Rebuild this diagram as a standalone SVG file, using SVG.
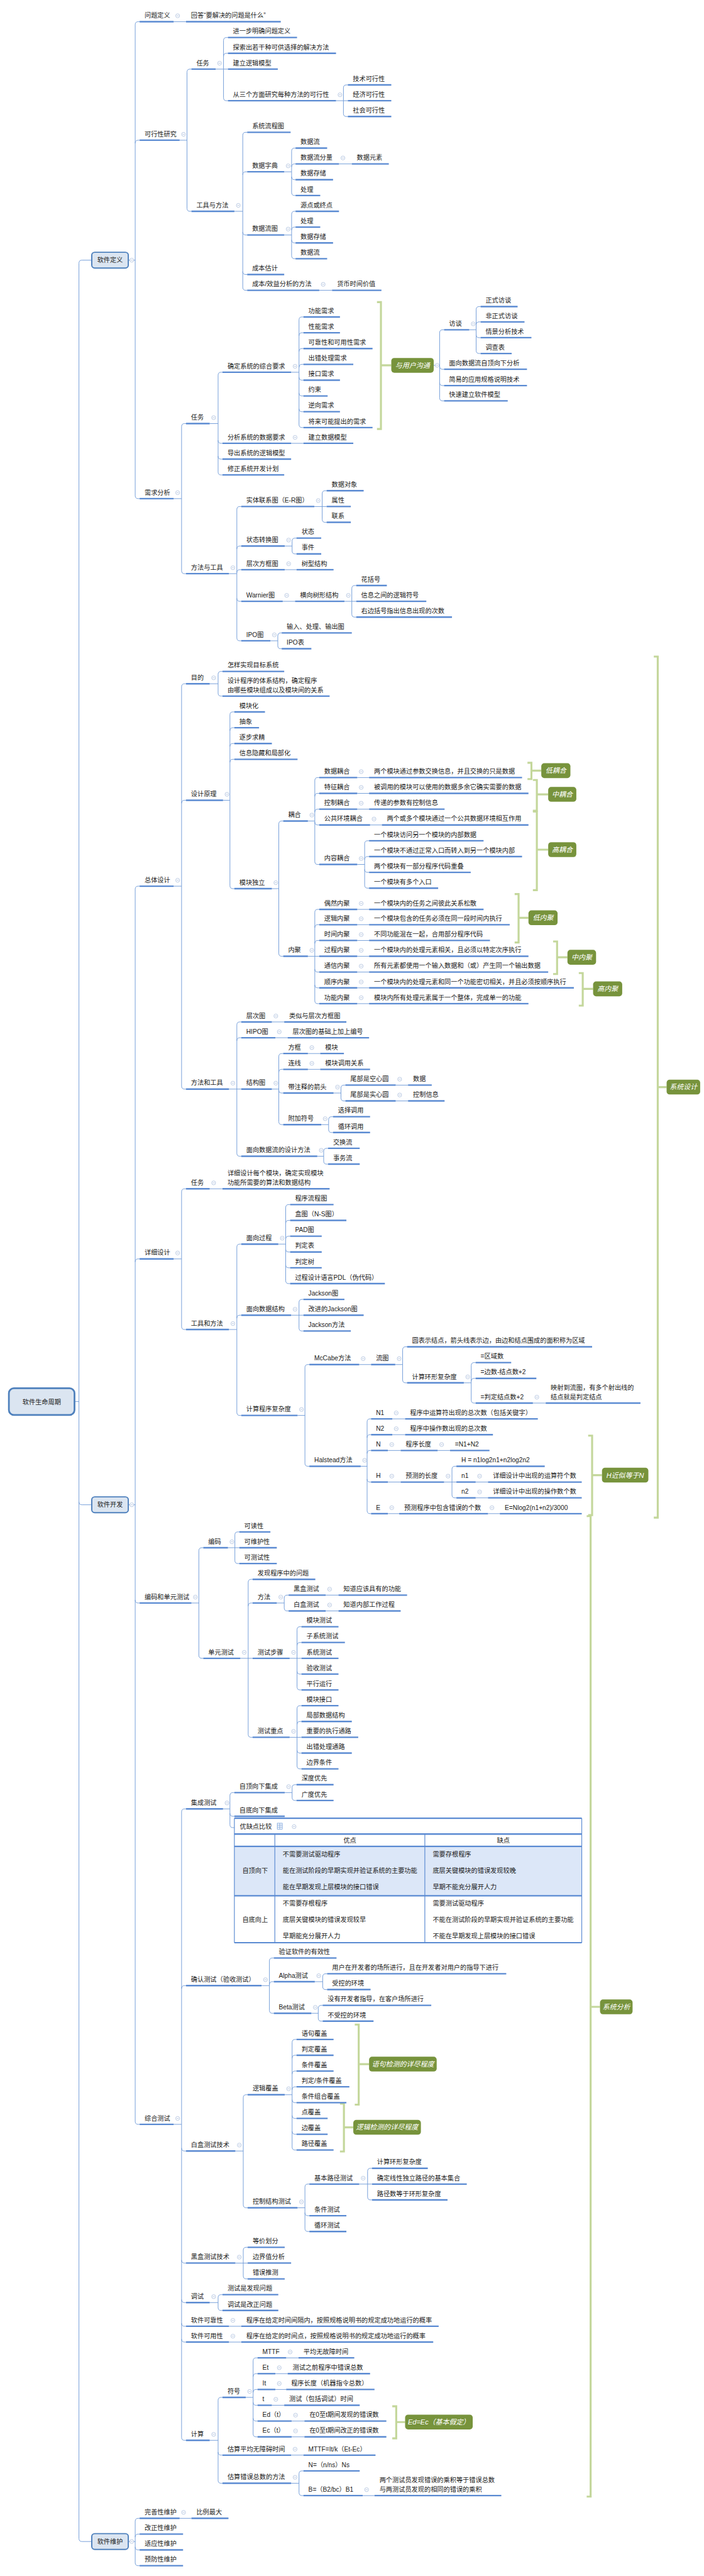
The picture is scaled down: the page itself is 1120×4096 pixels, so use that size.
<svg xmlns="http://www.w3.org/2000/svg" width="1120" height="4096" viewBox="0 0 1120 4096">
<style>
.t{font-family:"Liberation Sans","Noto Sans CJK SC",sans-serif;font-size:13px;fill:#1a1a1a}
.u{stroke:#5a8ad2;stroke-width:3;fill:none}
.c{fill:none;stroke:#6e9ad8;stroke-width:1.2}
.icc{fill:#fff;stroke:#a9bddb;stroke-width:1}
.icm{stroke:#a9bddb;stroke-width:1}
.br{fill:none;stroke:#c4d79b;stroke-width:4}
.lb{fill:#77933c}
.lt{font-family:"Liberation Sans","Noto Sans CJK SC",sans-serif;font-size:14px;font-style:italic;fill:#fff;text-anchor:middle}
.b0{fill:#dbe5f1;stroke:#4f81bd;stroke-width:3.5}
.b1{fill:#dbe5f1;stroke:#4f81bd;stroke-width:2.5}
.bt{font-family:"Liberation Sans","Noto Sans CJK SC",sans-serif;font-size:13px;fill:#1a1a1a;text-anchor:middle}
.tl{stroke:#5a8ad2;fill:none}
.tm{text-anchor:middle}
</style>
<defs><g id="ic"><circle class="icc" r="4"/><path class="icm" d="M-2.2 0H2.2"/></g></defs>
<rect width="1120" height="4096" fill="#fff"/>
<g transform="scale(0.785)">
<g id="connectors">
<path class="c" d="M151 2839H160M160 533V5142M160 533Q160 527 166 527H186M160 3042Q160 3048 166 3048H186M160 5142Q160 5148 166 5148H186"/>
<path class="c" d="M260 527H274M274 50V1004M274 50Q274 44 280 44H283M274 290Q274 284 280 284H283M274 1004Q274 1010 280 1010H283"/>
<path class="c" d="M352 44H377"/>
<path class="c" d="M364 284H379M379 146V422M379 146Q379 140 385 140H388M379 422Q379 428 385 428H388"/>
<path class="c" d="M437 140H453M453 82V198M453 82Q453 76 459 76H462M453 114Q453 108 459 108H462M453 140H462M453 198Q453 204 459 204H462"/>
<path class="c" d="M681 204H696M696 178V230M696 178Q696 172 702 172H705M696 204H705M696 230Q696 236 702 236H705"/>
<path class="c" d="M475 428H492M492 274V582M492 274Q492 268 498 268H501M492 354Q492 348 498 348H501M492 470Q492 476 498 476H501M492 550Q492 556 498 556H501M492 582Q492 588 498 588H501"/>
<path class="c" d="M576 348H591M591 306V390M591 306Q591 300 597 300H599M591 338Q591 332 597 332H599M591 358Q591 364 597 364H599M591 390Q591 396 597 396H599"/>
<path class="c" d="M687 332H713"/>
<path class="c" d="M576 476H591M591 434V518M591 434Q591 428 597 428H599M591 466Q591 460 597 460H599M591 486Q591 492 597 492H599M591 518Q591 524 597 524H599"/>
<path class="c" d="M647 588H673"/>
<path class="c" d="M352 1010H368M368 864V1156M368 864Q368 858 374 858H377M368 1156Q368 1162 374 1162H377"/>
<path class="c" d="M425 858H442M442 760V956M442 760Q442 754 448 754H451M442 892Q442 898 448 898H451M442 924Q442 930 448 930H451M442 956Q442 962 448 962H451"/>
<path class="c" d="M590 754H606M606 648V860M606 648Q606 642 612 642H615M606 680Q606 674 612 674H615M606 712Q606 706 612 706H615M606 744Q606 738 612 738H615M606 764Q606 770 612 770H615M606 796Q606 802 612 802H615M606 828Q606 834 612 834H615M606 860Q606 866 612 866H615"/>
<path class="c" d="M879 740H891M891 674V806M891 674Q891 668 897 668H900M891 742Q891 748 897 748H900M891 775Q891 781 897 781H900M891 806Q891 812 897 812H900"/>
<path class="c" d="M951 668H965M965 627V710M965 627Q965 621 971 621H974M965 658Q965 652 971 652H974M965 678Q965 684 971 684H974M965 710Q965 716 971 716H974"/>
<path class="c" d="M590 898H615"/>
<path class="c" d="M464 1162H480M480 1032V1292M480 1032Q480 1026 486 1026H489M480 1112Q480 1106 486 1106H489M480 1160Q480 1154 486 1154H489M480 1212Q480 1218 486 1218H489M480 1292Q480 1298 486 1298H489"/>
<path class="c" d="M637 1026H653M653 1000V1052M653 1000Q653 994 659 994H662M653 1026H662M653 1052Q653 1058 659 1058H662"/>
<path class="c" d="M577 1106H592M592 1096V1116M592 1096Q592 1090 598 1090H601M592 1116Q592 1122 598 1122H601"/>
<path class="c" d="M577 1154H601M573 1218H598"/>
<path class="c" d="M698 1218H713M713 1192V1244M713 1192Q713 1186 719 1186H722M713 1218H722M713 1244Q713 1250 719 1250H722"/>
<path class="c" d="M548 1298H563M563 1288V1308M563 1288Q563 1282 569 1282H571M563 1308Q563 1314 569 1314H571"/>
<path class="c" d="M260 3048H274M274 1801V4297M274 1801Q274 1795 280 1795H283M274 2556Q274 2550 280 2550H283M274 3241Q274 3247 280 3247H283M274 4297Q274 4303 280 4303H283"/>
<path class="c" d="M352 1795H368M368 1391V2200M368 1391Q368 1385 374 1385H377M368 1627Q368 1621 374 1621H377M368 2200Q368 2206 374 2206H377"/>
<path class="c" d="M425 1385H442M442 1366V1404M442 1366Q442 1360 448 1360H451M442 1404Q442 1410 448 1410H451"/>
<path class="c" d="M452 1621H466M466 1448V1794M466 1448Q466 1442 472 1442H475M466 1480Q466 1474 472 1474H475M466 1512Q466 1506 472 1506H475M466 1544Q466 1538 472 1538H475M466 1794Q466 1800 472 1800H475"/>
<path class="c" d="M551 1800H565M565 1669V1931M565 1669Q565 1663 571 1663H574M565 1931Q565 1937 571 1937H574"/>
<path class="c" d="M624 1663H638M638 1581V1745M638 1581Q638 1575 644 1575H647M638 1613Q638 1607 644 1607H647M638 1645Q638 1639 644 1639H647M638 1665Q638 1671 644 1671H647M638 1745Q638 1751 644 1751H647"/>
<path class="c" d="M724 1575H748M724 1607H748M724 1639H748M750 1671H774"/>
<path class="c" d="M724 1751H739M739 1709V1793M739 1709Q739 1703 745 1703H748M739 1741Q739 1735 745 1735H748M739 1761Q739 1767 745 1767H748M739 1793Q739 1799 745 1799H748"/>
<path class="c" d="M624 1937H638M638 1848V2027M638 1848Q638 1842 644 1842H647M638 1879Q638 1873 644 1873H647M638 1911Q638 1905 644 1905H647M638 1937H647M638 1963Q638 1969 644 1969H647M638 1995Q638 2001 644 2001H647M638 2027Q638 2033 644 2033H647"/>
<path class="c" d="M724 1842H748M724 1873H748M724 1905H748M724 1937H748M724 1969H748M724 2001H748M724 2033H748"/>
<path class="c" d="M464 2206H480M480 2076V2336M480 2076Q480 2070 486 2070H489M480 2108Q480 2102 486 2102H489M480 2206H489M480 2336Q480 2342 486 2342H489"/>
<path class="c" d="M551 2070H576M558 2102H583"/>
<path class="c" d="M551 2206H565M565 2140V2272M565 2140Q565 2134 571 2134H574M565 2172Q565 2166 571 2166H574M565 2208Q565 2214 571 2214H574M565 2272Q565 2278 571 2278H574"/>
<path class="c" d="M624 2134H649M624 2166H649"/>
<path class="c" d="M676 2214H691M691 2204V2224M691 2204Q691 2198 697 2198H700M691 2224Q691 2230 697 2230H700"/>
<path class="c" d="M802 2198H827M802 2230H827"/>
<path class="c" d="M651 2278H666M666 2268V2288M666 2268Q666 2262 672 2262H675M666 2288Q666 2294 672 2294H675"/>
<path class="c" d="M643 2342H656M656 2332V2352M656 2332Q656 2326 662 2326H665M656 2352Q656 2358 662 2358H665"/>
<path class="c" d="M352 2550H368M368 2414V2687M368 2414Q368 2408 374 2408H377M368 2687Q368 2693 374 2693H377"/>
<path class="c" d="M425 2408H451"/>
<path class="c" d="M464 2693H480M480 2526V2861M480 2526Q480 2520 486 2520H489M480 2670Q480 2664 486 2664H489M480 2861Q480 2867 486 2867H489"/>
<path class="c" d="M564 2520H579M579 2446V2594M579 2446Q579 2440 585 2440H588M579 2478Q579 2472 585 2472H588M579 2510Q579 2504 585 2504H588M579 2530Q579 2536 585 2536H588M579 2562Q579 2568 585 2568H588M579 2594Q579 2600 585 2600H588"/>
<path class="c" d="M590 2664H606M606 2638V2690M606 2638Q606 2632 612 2632H615M606 2664H615M606 2690Q606 2696 612 2696H615"/>
<path class="c" d="M603 2867H618M618 2770V2964M618 2770Q618 2764 624 2764H627M618 2964Q618 2970 624 2970H627"/>
<path class="c" d="M728 2764H752"/>
<path class="c" d="M801 2764H816M816 2734V2795M816 2734Q816 2728 822 2728H825M816 2795Q816 2801 822 2801H825"/>
<path class="c" d="M940 2801H955M955 2766V2836M955 2766Q955 2760 961 2760H964M955 2798Q955 2792 961 2792H964M955 2836Q955 2842 961 2842H964"/>
<path class="c" d="M1080 2842H1106"/>
<path class="c" d="M731 2970H744M744 2880V3060M744 2880Q744 2874 750 2874H752M744 2912Q744 2906 750 2906H752M744 2944Q744 2938 750 2938H752M744 2996Q744 3002 750 3002H752M744 3060Q744 3066 750 3066H752"/>
<path class="c" d="M795 2874H821M795 2906H821M786 2938H812M887 2938H912M786 3002H812"/>
<path class="c" d="M900 3002H916M916 2976V3028M916 2976Q916 2970 922 2970H925M916 3002H925M916 3028Q916 3034 922 3034H925"/>
<path class="c" d="M964 3002H989M964 3034H989M786 3066H809M989 3066H1013"/>
<path class="c" d="M388 3247H403M403 3141V3353M403 3141Q403 3135 409 3135H412M403 3353Q403 3359 409 3359H412"/>
<path class="c" d="M462 3135H476M476 3109V3161M476 3109Q476 3103 482 3103H485M476 3135H485M476 3161Q476 3167 482 3167H485"/>
<path class="c" d="M487 3359H503M503 3205V3513M503 3205Q503 3199 509 3199H512M503 3253Q503 3247 509 3247H512M503 3359H512M503 3513Q503 3519 509 3519H512"/>
<path class="c" d="M561 3247H576M576 3237V3257M576 3237Q576 3231 582 3231H585M576 3257Q576 3263 582 3263H585"/>
<path class="c" d="M660 3231H686M660 3263H686"/>
<path class="c" d="M587 3359H602M602 3301V3417M602 3301Q602 3295 608 3295H611M602 3333Q602 3327 608 3327H611M602 3359H611M602 3385Q602 3391 608 3391H611M602 3417Q602 3423 608 3423H611"/>
<path class="c" d="M587 3519H602M602 3461V3577M602 3461Q602 3455 608 3455H611M602 3493Q602 3487 608 3487H611M602 3519H611M602 3545Q602 3551 608 3551H611M602 3577Q602 3583 608 3583H611"/>
<path class="c" d="M352 4303H368M368 3670V4937M368 3670Q368 3664 374 3664H377M368 4028Q368 4022 374 4022H377M368 4351Q368 4357 374 4357H377M368 4578Q368 4584 374 4584H377M368 4658Q368 4664 374 4664H377M368 4706Q368 4712 374 4712H377M368 4738Q368 4744 374 4744H377M368 4937Q368 4943 374 4943H377"/>
<path class="c" d="M452 3664H466M466 3637V3696M466 3637Q466 3631 472 3631H475M466 3673Q466 3679 472 3679H475M466 3696Q466 3702 472 3702H475"/>
<path class="c" d="M577 3631H592M592 3621V3641M592 3621Q592 3615 598 3615H601M592 3641Q592 3647 598 3647H601"/>
<path class="c" d="M530 4022H546M546 3972V4072M546 3972Q546 3966 552 3966H555M546 4020Q546 4014 552 4014H555M546 4072Q546 4078 552 4078H555"/>
<path class="c" d="M638 4014H654M654 4004V4024M654 4004Q654 3998 660 3998H663M654 4024Q654 4030 660 4030H663"/>
<path class="c" d="M631 4078H645M645 4068V4088M645 4068Q645 4062 651 4062H654M645 4088Q645 4094 651 4094H654"/>
<path class="c" d="M477 4357H493M493 4249V4466M493 4249Q493 4243 499 4243H502M493 4466Q493 4472 499 4472H502"/>
<path class="c" d="M577 4243H592M592 4137V4349M592 4137Q592 4131 598 4131H601M592 4169Q592 4163 598 4163H601M592 4201Q592 4195 598 4195H601M592 4233Q592 4227 598 4227H601M592 4253Q592 4259 598 4259H601M592 4285Q592 4291 598 4291H601M592 4317Q592 4323 598 4323H601M592 4349Q592 4355 598 4355H601"/>
<path class="c" d="M603 4472H618M618 4430V4514M618 4430Q618 4424 624 4424H627M618 4482Q618 4488 624 4488H627M618 4514Q618 4520 624 4520H627"/>
<path class="c" d="M728 4424H745M745 4398V4450M745 4398Q745 4392 751 4392H754M745 4424H754M745 4450Q745 4456 751 4456H754"/>
<path class="c" d="M477 4584H493M493 4558V4610M493 4558Q493 4552 499 4552H502M493 4584H502M493 4610Q493 4616 499 4616H502"/>
<path class="c" d="M425 4664H442M442 4654V4674M442 4654Q442 4648 448 4648H451M442 4674Q442 4680 448 4680H451"/>
<path class="c" d="M464 4712H489M464 4744H489"/>
<path class="c" d="M425 4943H442M442 4862V5024M442 4862Q442 4856 448 4856H451M442 4967Q442 4973 448 4973H451M442 5024Q442 5030 448 5030H451"/>
<path class="c" d="M498 4856H513M513 4782V4930M513 4782Q513 4776 519 4776H522M513 4814Q513 4808 519 4808H522M513 4846Q513 4840 519 4840H522M513 4866Q513 4872 519 4872H522M513 4898Q513 4904 519 4904H522M513 4930Q513 4936 519 4936H522"/>
<path class="c" d="M580 4776H605M558 4808H583M558 4840H580M551 4872H576M591 4904H617M591 4936H617M590 4973H615"/>
<path class="c" d="M590 5030H606M606 5011V5049M606 5011Q606 5005 612 5005H615M606 5049Q606 5055 612 5055H615"/>
<path class="c" d="M735 5055H759"/>
<path class="c" d="M260 5148H274M274 5107V5191M274 5107Q274 5101 280 5101H283M274 5139Q274 5133 280 5133H283M274 5159Q274 5165 280 5165H283M274 5191Q274 5197 280 5197H283"/>
<path class="c" d="M364 5101H388"/>
</g>
<g id="brackets">
<path class="br" d="M764 612H772V869H764M772 740H793"/>
<path class="br" d="M1069 1545H1077V1578H1069M1077 1561H1097"/>
<path class="br" d="M1080 1580H1088V1642H1080M1088 1609H1111"/>
<path class="br" d="M1080 1644H1088V1803H1080M1088 1721H1111"/>
<path class="br" d="M1043 1811H1051V1909H1043M1051 1859H1071"/>
<path class="br" d="M1121 1907H1129V1973H1121M1129 1939H1150"/>
<path class="br" d="M1173 1971H1181V2037H1173M1181 2003H1202"/>
<path class="br" d="M1325 1330H1333V3074H1325M1333 2202H1351"/>
<path class="br" d="M1192 2908H1200V3069H1192M1200 2988H1220"/>
<path class="br" d="M719 4101H727V4263H719M727 4181H748"/>
<path class="br" d="M689 4261H697V4358H689M697 4309H716"/>
<path class="br" d="M795 4874H803V4939H795M803 4906H821"/>
<path class="br" d="M1189 3071H1197V5057H1189M1197 4065H1216"/>
</g>
<g id="root"><rect class="b0" x="18" y="2812" width="133" height="54" rx="10"/><text class="bt" x="84.5" y="2844">软件生命周期</text></g>
<g id="l1-def"><rect class="b1" x="186" y="511" width="74" height="32" rx="6"/><text class="bt" x="223" y="531.5">软件定义</text><use href="#ic" x="267" y="527"/></g>
<g id="l1-dev"><rect class="b1" x="186" y="3032" width="74" height="32" rx="6"/><text class="bt" x="223" y="3052.5">软件开发</text><use href="#ic" x="267" y="3048"/></g>
<g id="l1-mnt"><rect class="b1" x="186" y="5132" width="74" height="32" rx="6"/><text class="bt" x="223" y="5152.5">软件维护</text><use href="#ic" x="267" y="5148"/></g>
<g id="s-gytx"><rect class="lb" x="793" y="725" width="86" height="30" rx="6"/><text class="lt" x="836" y="745">与用户沟通</text><use href="#ic" x="886" y="740"/></g>
<g id="s-dou"><rect class="lb" x="1097" y="1546" width="59" height="30" rx="6"/><text class="lt" x="1126.5" y="1566">低耦合</text></g>
<g id="s-zou"><rect class="lb" x="1111" y="1594" width="57" height="30" rx="6"/><text class="lt" x="1139.5" y="1614">中耦合</text></g>
<g id="s-gou"><rect class="lb" x="1111" y="1706" width="57" height="30" rx="6"/><text class="lt" x="1139.5" y="1726">高耦合</text></g>
<g id="s-dnj"><rect class="lb" x="1071" y="1844" width="59" height="30" rx="6"/><text class="lt" x="1100.5" y="1864">低内聚</text></g>
<g id="s-znj"><rect class="lb" x="1150" y="1924" width="58" height="30" rx="6"/><text class="lt" x="1179" y="1944">中内聚</text></g>
<g id="s-gnj"><rect class="lb" x="1202" y="1988" width="59" height="30" rx="6"/><text class="lt" x="1231.5" y="2008">高内聚</text></g>
<g id="s-xtsj"><rect class="lb" x="1351" y="2187" width="68" height="30" rx="6"/><text class="lt" x="1385" y="2207">系统设计</text></g>
<g id="s-hn"><rect class="lb" x="1220" y="2973" width="94" height="30" rx="6"/><text class="lt" x="1267" y="2993">H近似等于N</text></g>
<g id="s-yjjc"><rect class="lb" x="748" y="4166" width="137" height="30" rx="6"/><text class="lt" x="816.5" y="4186">语句检测的详尽程度</text></g>
<g id="s-ljjc"><rect class="lb" x="716" y="4294" width="137" height="30" rx="6"/><text class="lt" x="784.5" y="4314">逻辑检测的详尽程度</text></g>
<g id="s-edec"><rect class="lb" x="821" y="4891" width="137" height="30" rx="6"/><text class="lt" x="889.5" y="4911">Ed=Ec（基本假定）</text></g>
<g id="s-xtfx"><rect class="lb" x="1216" y="4050" width="66" height="30" rx="6"/><text class="lt" x="1249" y="4070">系统分析</text></g>
<g id="n1"><path class="u" d="M283 44H352"/><text class="t" x="293" y="36">问题定义</text><use href="#ic" x="360" y="32"/></g>
<g id="n2"><path class="u" d="M377 44H569"/><text class="t" x="387" y="36">回答“要解决的问题是什么”</text></g>
<g id="n3"><path class="u" d="M283 284H364"/><text class="t" x="293" y="276">可行性研究</text><use href="#ic" x="372" y="272"/></g>
<g id="n4"><path class="u" d="M388 140H437"/><text class="t" x="398" y="132">任务</text><use href="#ic" x="445" y="128"/></g>
<g id="n5"><path class="u" d="M462 76H602"/><text class="t" x="472" y="68">进一步明确问题定义</text></g>
<g id="n6"><path class="u" d="M462 108H681"/><text class="t" x="472" y="100">探索出若干种可供选择的解决方法</text></g>
<g id="n7"><path class="u" d="M462 140H563"/><text class="t" x="472" y="132">建立逻辑模型</text></g>
<g id="n8"><path class="u" d="M462 204H681"/><text class="t" x="472" y="196">从三个方面研究每种方法的可行性</text><use href="#ic" x="689" y="192"/></g>
<g id="n9"><path class="u" d="M705 172H793"/><text class="t" x="715" y="164">技术可行性</text></g>
<g id="n10"><path class="u" d="M705 204H793"/><text class="t" x="715" y="196">经济可行性</text></g>
<g id="n11"><path class="u" d="M705 236H793"/><text class="t" x="715" y="228">社会可行性</text></g>
<g id="n12"><path class="u" d="M388 428H475"/><text class="t" x="398" y="420">工具与方法</text><use href="#ic" x="483" y="416"/></g>
<g id="n13"><path class="u" d="M501 268H589"/><text class="t" x="511" y="260">系统流程图</text></g>
<g id="n14"><path class="u" d="M501 348H576"/><text class="t" x="511" y="340">数据字典</text><use href="#ic" x="584" y="336"/></g>
<g id="n15"><path class="u" d="M599 300H663"/><text class="t" x="609" y="292">数据流</text></g>
<g id="n16"><path class="u" d="M599 332H687"/><text class="t" x="609" y="324">数据流分量</text><use href="#ic" x="695" y="320"/></g>
<g id="n17"><path class="u" d="M713 332H788"/><text class="t" x="723" y="324">数据元素</text></g>
<g id="n18"><path class="u" d="M599 364H675"/><text class="t" x="609" y="356">数据存储</text></g>
<g id="n19"><path class="u" d="M599 396H649"/><text class="t" x="609" y="388">处理</text></g>
<g id="n20"><path class="u" d="M501 476H576"/><text class="t" x="511" y="468">数据流图</text><use href="#ic" x="584" y="464"/></g>
<g id="n21"><path class="u" d="M599 428H687"/><text class="t" x="609" y="420">源点或终点</text></g>
<g id="n22"><path class="u" d="M599 460H649"/><text class="t" x="609" y="452">处理</text></g>
<g id="n23"><path class="u" d="M599 492H675"/><text class="t" x="609" y="484">数据存储</text></g>
<g id="n24"><path class="u" d="M599 524H663"/><text class="t" x="609" y="516">数据流</text></g>
<g id="n25"><path class="u" d="M501 556H576"/><text class="t" x="511" y="548">成本估计</text></g>
<g id="n26"><path class="u" d="M501 588H647"/><text class="t" x="511" y="580">成本/效益分析的方法</text><use href="#ic" x="655" y="576"/></g>
<g id="n27"><path class="u" d="M673 588H773"/><text class="t" x="683" y="580">货币时间价值</text></g>
<g id="n28"><path class="u" d="M283 1010H352"/><text class="t" x="293" y="1002">需求分析</text><use href="#ic" x="360" y="998"/></g>
<g id="n29"><path class="u" d="M377 858H425"/><text class="t" x="387" y="850">任务</text><use href="#ic" x="433" y="846"/></g>
<g id="n30"><path class="u" d="M451 754H590"/><text class="t" x="461" y="746">确定系统的综合要求</text><use href="#ic" x="598" y="742"/></g>
<g id="n31"><path class="u" d="M615 642H689"/><text class="t" x="625" y="634">功能需求</text></g>
<g id="n32"><path class="u" d="M615 674H689"/><text class="t" x="625" y="666">性能需求</text></g>
<g id="n33"><path class="u" d="M615 706H755"/><text class="t" x="625" y="698">可靠性和可用性需求</text></g>
<g id="n34"><path class="u" d="M615 738H716"/><text class="t" x="625" y="730">出错处理需求</text></g>
<g id="n35"><path class="u" d="M615 770H689"/><text class="t" x="625" y="762">接口需求</text></g>
<g id="n36"><path class="u" d="M615 802H664"/><text class="t" x="625" y="794">约束</text></g>
<g id="n37"><path class="u" d="M615 834H689"/><text class="t" x="625" y="826">逆向需求</text></g>
<g id="n38"><path class="u" d="M615 866H755"/><text class="t" x="625" y="858">将来可能提出的需求</text></g>
<g id="n39"><path class="u" d="M900 668H951"/><text class="t" x="910" y="660">访谈</text><use href="#ic" x="959" y="656"/></g>
<g id="n40"><path class="u" d="M974 621H1049"/><text class="t" x="984" y="613">正式访谈</text></g>
<g id="n41"><path class="u" d="M974 652H1063"/><text class="t" x="984" y="644">非正式访谈</text></g>
<g id="n42"><path class="u" d="M974 684H1077"/><text class="t" x="984" y="676">情景分析技术</text></g>
<g id="n43"><path class="u" d="M974 716H1037"/><text class="t" x="984" y="708">调查表</text></g>
<g id="n44"><path class="u" d="M900 748H1068"/><text class="t" x="910" y="740">面向数据流自顶向下分析</text></g>
<g id="n45"><path class="u" d="M900 781H1068"/><text class="t" x="910" y="773">简易的应用规格说明技术</text></g>
<g id="n46"><path class="u" d="M900 812H1029"/><text class="t" x="910" y="804">快速建立软件模型</text></g>
<g id="n47"><path class="u" d="M451 898H590"/><text class="t" x="461" y="890">分析系统的数据要求</text><use href="#ic" x="598" y="886"/></g>
<g id="n48"><path class="u" d="M615 898H716"/><text class="t" x="625" y="890">建立数据模型</text></g>
<g id="n49"><path class="u" d="M451 930H590"/><text class="t" x="461" y="922">导出系统的逻辑模型</text></g>
<g id="n50"><path class="u" d="M451 962H576"/><text class="t" x="461" y="954">修正系统开发计划</text></g>
<g id="n51"><path class="u" d="M377 1162H464"/><text class="t" x="387" y="1154">方法与工具</text><use href="#ic" x="472" y="1150"/></g>
<g id="n52"><path class="u" d="M489 1026H637"/><text class="t" x="499" y="1018">实体联系图（E-R图）</text><use href="#ic" x="645" y="1014"/></g>
<g id="n53"><path class="u" d="M662 994H737"/><text class="t" x="672" y="986">数据对象</text></g>
<g id="n54"><path class="u" d="M662 1026H711"/><text class="t" x="672" y="1018">属性</text></g>
<g id="n55"><path class="u" d="M662 1058H711"/><text class="t" x="672" y="1050">联系</text></g>
<g id="n56"><path class="u" d="M489 1106H577"/><text class="t" x="499" y="1098">状态转换图</text><use href="#ic" x="585" y="1094"/></g>
<g id="n57"><path class="u" d="M601 1090H651"/><text class="t" x="611" y="1082">状态</text></g>
<g id="n58"><path class="u" d="M601 1122H651"/><text class="t" x="611" y="1114">事件</text></g>
<g id="n59"><path class="u" d="M489 1154H577"/><text class="t" x="499" y="1146">层次方框图</text><use href="#ic" x="585" y="1142"/></g>
<g id="n60"><path class="u" d="M601 1154H676"/><text class="t" x="611" y="1146">树型结构</text></g>
<g id="n61"><path class="u" d="M489 1218H573"/><text class="t" x="499" y="1210">Warnier图</text><use href="#ic" x="581" y="1206"/></g>
<g id="n62"><path class="u" d="M598 1218H698"/><text class="t" x="608" y="1210">横向树形结构</text><use href="#ic" x="706" y="1206"/></g>
<g id="n63"><path class="u" d="M722 1186H784"/><text class="t" x="732" y="1178">花括号</text></g>
<g id="n64"><path class="u" d="M722 1218H864"/><text class="t" x="732" y="1210">信息之间的逻辑符号</text></g>
<g id="n65"><path class="u" d="M722 1250H916"/><text class="t" x="732" y="1242">右边括号指出信息出现的次数</text></g>
<g id="n66"><path class="u" d="M489 1298H548"/><text class="t" x="499" y="1290">IPO图</text><use href="#ic" x="556" y="1286"/></g>
<g id="n67"><path class="u" d="M571 1282H713"/><text class="t" x="581" y="1274">输入、处理、输出图</text></g>
<g id="n68"><path class="u" d="M571 1314H631"/><text class="t" x="581" y="1306">IPO表</text></g>
<g id="n69"><path class="u" d="M283 1795H352"/><text class="t" x="293" y="1787">总体设计</text><use href="#ic" x="360" y="1783"/></g>
<g id="n70"><path class="u" d="M377 1385H425"/><text class="t" x="387" y="1377">目的</text><use href="#ic" x="433" y="1373"/></g>
<g id="n71"><path class="u" d="M451 1360H576"/><text class="t" x="461" y="1352">怎样实现目标系统</text></g>
<g id="n72"><path class="u" d="M451 1410H668"/><text class="t" x="461" y="1383">设计程序的体系结构，确定程序</text><text class="t" x="461" y="1402">由哪些模块组成以及模块间的关系</text></g>
<g id="n73"><path class="u" d="M377 1621H452"/><text class="t" x="387" y="1613">设计原理</text><use href="#ic" x="460" y="1609"/></g>
<g id="n74"><path class="u" d="M475 1442H537"/><text class="t" x="485" y="1434">模块化</text></g>
<g id="n75"><path class="u" d="M475 1474H525"/><text class="t" x="485" y="1466">抽象</text></g>
<g id="n76"><path class="u" d="M475 1506H551"/><text class="t" x="485" y="1498">逐步求精</text></g>
<g id="n77"><path class="u" d="M475 1538H603"/><text class="t" x="485" y="1530">信息隐藏和局部化</text></g>
<g id="n78"><path class="u" d="M475 1800H551"/><text class="t" x="485" y="1792">模块独立</text><use href="#ic" x="559" y="1788"/></g>
<g id="n79"><path class="u" d="M574 1663H624"/><text class="t" x="584" y="1655">耦合</text><use href="#ic" x="632" y="1651"/></g>
<g id="n80"><path class="u" d="M647 1575H724"/><text class="t" x="657" y="1567">数据耦合</text><use href="#ic" x="732" y="1563"/></g>
<g id="n81"><path class="u" d="M748 1575H1058"/><text class="t" x="758" y="1567">两个模块通过参数交换信息，并且交换的只是数据</text></g>
<g id="n82"><path class="u" d="M647 1607H724"/><text class="t" x="657" y="1599">特征耦合</text><use href="#ic" x="732" y="1595"/></g>
<g id="n83"><path class="u" d="M748 1607H1071"/><text class="t" x="758" y="1599">被调用的模块可以使用的数据多余它确实需要的数据</text></g>
<g id="n84"><path class="u" d="M647 1639H724"/><text class="t" x="657" y="1631">控制耦合</text><use href="#ic" x="732" y="1627"/></g>
<g id="n85"><path class="u" d="M748 1639H901"/><text class="t" x="758" y="1631">传递的参数有控制信息</text></g>
<g id="n86"><path class="u" d="M647 1671H750"/><text class="t" x="657" y="1663">公共环境耦合</text><use href="#ic" x="758" y="1659"/></g>
<g id="n87"><path class="u" d="M774 1671H1071"/><text class="t" x="784" y="1663">两个或多个模块通过一个公共数据环境相互作用</text></g>
<g id="n88"><path class="u" d="M647 1751H724"/><text class="t" x="657" y="1743">内容耦合</text><use href="#ic" x="732" y="1739"/></g>
<g id="n89"><path class="u" d="M748 1703H980"/><text class="t" x="758" y="1695">一个模块访问另一个模块的内部数据</text></g>
<g id="n90"><path class="u" d="M748 1735H1058"/><text class="t" x="758" y="1727">一个模块不通过正常入口而转入到另一个模块内部</text></g>
<g id="n91"><path class="u" d="M748 1767H954"/><text class="t" x="758" y="1759">两个模块有一部分程序代码重叠</text></g>
<g id="n92"><path class="u" d="M748 1799H888"/><text class="t" x="758" y="1791">一个模块有多个入口</text></g>
<g id="n93"><path class="u" d="M574 1937H624"/><text class="t" x="584" y="1929">内聚</text><use href="#ic" x="632" y="1925"/></g>
<g id="n94"><path class="u" d="M647 1842H724"/><text class="t" x="657" y="1834">偶然内聚</text><use href="#ic" x="732" y="1830"/></g>
<g id="n95"><path class="u" d="M748 1842H980"/><text class="t" x="758" y="1834">一个模块内的任务之间彼此关系松散</text></g>
<g id="n96"><path class="u" d="M647 1873H724"/><text class="t" x="657" y="1865">逻辑内聚</text><use href="#ic" x="732" y="1861"/></g>
<g id="n97"><path class="u" d="M748 1873H1033"/><text class="t" x="758" y="1865">一个模块包含的任务必须在同一段时间内执行</text></g>
<g id="n98"><path class="u" d="M647 1905H724"/><text class="t" x="657" y="1897">时间内聚</text><use href="#ic" x="732" y="1893"/></g>
<g id="n99"><path class="u" d="M748 1905H993"/><text class="t" x="758" y="1897">不同功能混在一起，合用部分程序代码</text></g>
<g id="n100"><path class="u" d="M647 1937H724"/><text class="t" x="657" y="1929">过程内聚</text><use href="#ic" x="732" y="1925"/></g>
<g id="n101"><path class="u" d="M748 1937H1071"/><text class="t" x="758" y="1929">一个模块内的处理元素相关，且必须以特定次序执行</text></g>
<g id="n102"><path class="u" d="M647 1969H724"/><text class="t" x="657" y="1961">通信内聚</text><use href="#ic" x="732" y="1957"/></g>
<g id="n103"><path class="u" d="M748 1969H1111"/><text class="t" x="758" y="1961">所有元素都使用一个输入数据和（或）产生同一个输出数据</text></g>
<g id="n104"><path class="u" d="M647 2001H724"/><text class="t" x="657" y="1993">顺序内聚</text><use href="#ic" x="732" y="1989"/></g>
<g id="n105"><path class="u" d="M748 2001H1163"/><text class="t" x="758" y="1993">一个模块内的处理元素和同一个功能密切相关，并且必须按顺序执行</text></g>
<g id="n106"><path class="u" d="M647 2033H724"/><text class="t" x="657" y="2025">功能内聚</text><use href="#ic" x="732" y="2021"/></g>
<g id="n107"><path class="u" d="M748 2033H1071"/><text class="t" x="758" y="2025">模块内所有处理元素属于一个整体，完成单一的功能</text></g>
<g id="n108"><path class="u" d="M377 2206H464"/><text class="t" x="387" y="2198">方法和工具</text><use href="#ic" x="472" y="2194"/></g>
<g id="n109"><path class="u" d="M489 2070H551"/><text class="t" x="499" y="2062">层次图</text><use href="#ic" x="559" y="2058"/></g>
<g id="n110"><path class="u" d="M576 2070H702"/><text class="t" x="586" y="2062">类似与层次方框图</text></g>
<g id="n111"><path class="u" d="M489 2102H558"/><text class="t" x="499" y="2094">HIPO图</text><use href="#ic" x="566" y="2090"/></g>
<g id="n112"><path class="u" d="M583 2102H748"/><text class="t" x="593" y="2094">层次图的基础上加上编号</text></g>
<g id="n113"><path class="u" d="M489 2206H551"/><text class="t" x="499" y="2198">结构图</text><use href="#ic" x="559" y="2194"/></g>
<g id="n114"><path class="u" d="M574 2134H624"/><text class="t" x="584" y="2126">方框</text><use href="#ic" x="632" y="2122"/></g>
<g id="n115"><path class="u" d="M649 2134H697"/><text class="t" x="659" y="2126">模块</text></g>
<g id="n116"><path class="u" d="M574 2166H624"/><text class="t" x="584" y="2158">连线</text><use href="#ic" x="632" y="2154"/></g>
<g id="n117"><path class="u" d="M649 2166H750"/><text class="t" x="659" y="2158">模块调用关系</text></g>
<g id="n118"><path class="u" d="M574 2214H676"/><text class="t" x="584" y="2206">带注释的箭头</text><use href="#ic" x="684" y="2202"/></g>
<g id="n119"><path class="u" d="M700 2198H802"/><text class="t" x="710" y="2190">尾部是空心圆</text><use href="#ic" x="810" y="2186"/></g>
<g id="n120"><path class="u" d="M827 2198H875"/><text class="t" x="837" y="2190">数据</text></g>
<g id="n121"><path class="u" d="M700 2230H802"/><text class="t" x="710" y="2222">尾部是实心圆</text><use href="#ic" x="810" y="2218"/></g>
<g id="n122"><path class="u" d="M827 2230H901"/><text class="t" x="837" y="2222">控制信息</text></g>
<g id="n123"><path class="u" d="M574 2278H651"/><text class="t" x="584" y="2270">附加符号</text><use href="#ic" x="659" y="2266"/></g>
<g id="n124"><path class="u" d="M675 2262H750"/><text class="t" x="685" y="2254">选择调用</text></g>
<g id="n125"><path class="u" d="M675 2294H750"/><text class="t" x="685" y="2286">循环调用</text></g>
<g id="n126"><path class="u" d="M489 2342H643"/><text class="t" x="499" y="2334">面向数据流的设计方法</text><use href="#ic" x="651" y="2330"/></g>
<g id="n127"><path class="u" d="M665 2326H729"/><text class="t" x="675" y="2318">交换流</text></g>
<g id="n128"><path class="u" d="M665 2358H729"/><text class="t" x="675" y="2350">事务流</text></g>
<g id="n129"><path class="u" d="M283 2550H352"/><text class="t" x="293" y="2542">详细设计</text><use href="#ic" x="360" y="2538"/></g>
<g id="n130"><path class="u" d="M377 2408H425"/><text class="t" x="387" y="2400">任务</text><use href="#ic" x="433" y="2396"/></g>
<g id="n131"><path class="u" d="M451 2408H668"/><text class="t" x="461" y="2381">详细设计每个模块，确定实现模块</text><text class="t" x="461" y="2400">功能所需要的算法和数据结构</text></g>
<g id="n132"><path class="u" d="M377 2693H464"/><text class="t" x="387" y="2685">工具和方法</text><use href="#ic" x="472" y="2681"/></g>
<g id="n133"><path class="u" d="M489 2520H564"/><text class="t" x="499" y="2512">面向过程</text><use href="#ic" x="572" y="2508"/></g>
<g id="n134"><path class="u" d="M588 2440H676"/><text class="t" x="598" y="2432">程序流程图</text></g>
<g id="n135"><path class="u" d="M588 2472H702"/><text class="t" x="598" y="2464">盒图（N-S图）</text></g>
<g id="n136"><path class="u" d="M588 2504H652"/><text class="t" x="598" y="2496">PAD图</text></g>
<g id="n137"><path class="u" d="M588 2536H652"/><text class="t" x="598" y="2528">判定表</text></g>
<g id="n138"><path class="u" d="M588 2568H652"/><text class="t" x="598" y="2560">判定树</text></g>
<g id="n139"><path class="u" d="M588 2600H780"/><text class="t" x="598" y="2592">过程设计语言PDL（伪代码）</text></g>
<g id="n140"><path class="u" d="M489 2664H590"/><text class="t" x="499" y="2656">面向数据结构</text><use href="#ic" x="598" y="2652"/></g>
<g id="n141"><path class="u" d="M615 2632H698"/><text class="t" x="625" y="2624">Jackson图</text></g>
<g id="n142"><path class="u" d="M615 2664H737"/><text class="t" x="625" y="2656">改进的Jackson图</text></g>
<g id="n143"><path class="u" d="M615 2696H711"/><text class="t" x="625" y="2688">Jackson方法</text></g>
<g id="n144"><path class="u" d="M489 2867H603"/><text class="t" x="499" y="2859">计算程序复杂度</text><use href="#ic" x="611" y="2855"/></g>
<g id="n145"><path class="u" d="M627 2764H728"/><text class="t" x="637" y="2756">McCabe方法</text><use href="#ic" x="736" y="2752"/></g>
<g id="n146"><path class="u" d="M752 2764H801"/><text class="t" x="762" y="2756">流图</text><use href="#ic" x="809" y="2752"/></g>
<g id="n147"><path class="u" d="M825 2728H1200"/><text class="t" x="835" y="2720">圆表示结点，箭头线表示边，由边和结点围成的面积称为区域</text></g>
<g id="n148"><path class="u" d="M825 2801H940"/><text class="t" x="835" y="2793">计算环形复杂度</text><use href="#ic" x="948" y="2789"/></g>
<g id="n149"><path class="u" d="M964 2760H1036"/><text class="t" x="974" y="2752">=区域数</text></g>
<g id="n150"><path class="u" d="M964 2792H1087"/><text class="t" x="974" y="2784">=边数-结点数+2</text></g>
<g id="n151"><path class="u" d="M964 2842H1080"/><text class="t" x="974" y="2834">=判定结点数+2</text><use href="#ic" x="1088" y="2830"/></g>
<g id="n152"><path class="u" d="M1106 2842H1298"/><text class="t" x="1116" y="2815">映射到流图，有多个射出线的</text><text class="t" x="1116" y="2834">结点就是判定结点</text></g>
<g id="n153"><path class="u" d="M627 2970H731"/><text class="t" x="637" y="2962">Halstead方法</text><use href="#ic" x="739" y="2958"/></g>
<g id="n154"><path class="u" d="M752 2874H795"/><text class="t" x="762" y="2866">N1</text><use href="#ic" x="803" y="2862"/></g>
<g id="n155"><path class="u" d="M821 2874H1090"/><text class="t" x="831" y="2866">程序中运算符出现的总次数（包括关键字）</text></g>
<g id="n156"><path class="u" d="M752 2906H795"/><text class="t" x="762" y="2898">N2</text><use href="#ic" x="803" y="2894"/></g>
<g id="n157"><path class="u" d="M821 2906H999"/><text class="t" x="831" y="2898">程序中操作数出现的总次数</text></g>
<g id="n158"><path class="u" d="M752 2938H786"/><text class="t" x="762" y="2930">N</text><use href="#ic" x="794" y="2926"/></g>
<g id="n159"><path class="u" d="M812 2938H887"/><text class="t" x="822" y="2930">程序长度</text><use href="#ic" x="895" y="2926"/></g>
<g id="n160"><path class="u" d="M912 2938H992"/><text class="t" x="922" y="2930">=N1+N2</text></g>
<g id="n161"><path class="u" d="M752 3002H786"/><text class="t" x="762" y="2994">H</text><use href="#ic" x="794" y="2990"/></g>
<g id="n162"><path class="u" d="M812 3002H900"/><text class="t" x="822" y="2994">预测的长度</text><use href="#ic" x="908" y="2990"/></g>
<g id="n163"><path class="u" d="M925 2970H1104"/><text class="t" x="935" y="2962">H = n1log2n1+n2log2n2</text></g>
<g id="n164"><path class="u" d="M925 3002H964"/><text class="t" x="935" y="2994">n1</text><use href="#ic" x="972" y="2990"/></g>
<g id="n165"><path class="u" d="M989 3002H1179"/><text class="t" x="999" y="2994">详细设计中出现的运算符个数</text></g>
<g id="n166"><path class="u" d="M925 3034H964"/><text class="t" x="935" y="3026">n2</text><use href="#ic" x="972" y="3022"/></g>
<g id="n167"><path class="u" d="M989 3034H1179"/><text class="t" x="999" y="3026">详细设计中出现的操作数个数</text></g>
<g id="n168"><path class="u" d="M752 3066H786"/><text class="t" x="762" y="3058">E</text><use href="#ic" x="794" y="3054"/></g>
<g id="n169"><path class="u" d="M809 3066H989"/><text class="t" x="819" y="3058">预测程序中包含错误的个数</text><use href="#ic" x="997" y="3054"/></g>
<g id="n170"><path class="u" d="M1013 3066H1179"/><text class="t" x="1023" y="3058">E=Nlog2(n1+n2)/3000</text></g>
<g id="n171"><path class="u" d="M283 3247H388"/><text class="t" x="293" y="3239">编码和单元测试</text><use href="#ic" x="396" y="3235"/></g>
<g id="n172"><path class="u" d="M412 3135H462"/><text class="t" x="422" y="3127">编码</text><use href="#ic" x="470" y="3123"/></g>
<g id="n173"><path class="u" d="M485 3103H548"/><text class="t" x="495" y="3095">可读性</text></g>
<g id="n174"><path class="u" d="M485 3135H561"/><text class="t" x="495" y="3127">可维护性</text></g>
<g id="n175"><path class="u" d="M485 3167H561"/><text class="t" x="495" y="3159">可测试性</text></g>
<g id="n176"><path class="u" d="M412 3359H487"/><text class="t" x="422" y="3351">单元测试</text><use href="#ic" x="495" y="3347"/></g>
<g id="n177"><path class="u" d="M512 3199H639"/><text class="t" x="522" y="3191">发现程序中的问题</text></g>
<g id="n178"><path class="u" d="M512 3247H561"/><text class="t" x="522" y="3239">方法</text><use href="#ic" x="569" y="3235"/></g>
<g id="n179"><path class="u" d="M585 3231H660"/><text class="t" x="595" y="3223">黑盒测试</text><use href="#ic" x="668" y="3219"/></g>
<g id="n180"><path class="u" d="M686 3231H825"/><text class="t" x="696" y="3223">知道应该具有的功能</text></g>
<g id="n181"><path class="u" d="M585 3263H660"/><text class="t" x="595" y="3255">白盒测试</text><use href="#ic" x="668" y="3251"/></g>
<g id="n182"><path class="u" d="M686 3263H812"/><text class="t" x="696" y="3255">知道内部工作过程</text></g>
<g id="n183"><path class="u" d="M512 3359H587"/><text class="t" x="522" y="3351">测试步骤</text><use href="#ic" x="595" y="3347"/></g>
<g id="n184"><path class="u" d="M611 3295H686"/><text class="t" x="621" y="3287">模块测试</text></g>
<g id="n185"><path class="u" d="M611 3327H699"/><text class="t" x="621" y="3319">子系统测试</text></g>
<g id="n186"><path class="u" d="M611 3359H686"/><text class="t" x="621" y="3351">系统测试</text></g>
<g id="n187"><path class="u" d="M611 3391H686"/><text class="t" x="621" y="3383">验收测试</text></g>
<g id="n188"><path class="u" d="M611 3423H686"/><text class="t" x="621" y="3415">平行运行</text></g>
<g id="n189"><path class="u" d="M512 3519H587"/><text class="t" x="522" y="3511">测试重点</text><use href="#ic" x="595" y="3507"/></g>
<g id="n190"><path class="u" d="M611 3455H686"/><text class="t" x="621" y="3447">模块接口</text></g>
<g id="n191"><path class="u" d="M611 3487H713"/><text class="t" x="621" y="3479">局部数据结构</text></g>
<g id="n192"><path class="u" d="M611 3519H726"/><text class="t" x="621" y="3511">重要的执行通路</text></g>
<g id="n193"><path class="u" d="M611 3551H713"/><text class="t" x="621" y="3543">出错处理通路</text></g>
<g id="n194"><path class="u" d="M611 3583H686"/><text class="t" x="621" y="3575">边界条件</text></g>
<g id="n195"><path class="u" d="M283 4303H352"/><text class="t" x="293" y="4295">综合测试</text><use href="#ic" x="360" y="4291"/></g>
<g id="n196"><path class="u" d="M377 3664H452"/><text class="t" x="387" y="3656">集成测试</text><use href="#ic" x="460" y="3652"/></g>
<g id="n197"><path class="u" d="M475 3631H577"/><text class="t" x="485" y="3623">自顶向下集成</text><use href="#ic" x="585" y="3619"/></g>
<g id="n198"><path class="u" d="M601 3615H676"/><text class="t" x="611" y="3607">深度优先</text></g>
<g id="n199"><path class="u" d="M601 3647H676"/><text class="t" x="611" y="3639">广度优先</text></g>
<g id="n200"><path class="u" d="M475 3679H577"/><text class="t" x="485" y="3671">自底向下集成</text></g>
<g id="n-table">
<rect x="475" y="3683" width="704" height="252" fill="#fff"/>
<rect x="475" y="3740" width="704" height="100" fill="#dce7f8"/>
<path class="tl" stroke-width="3" d="M475 3683H1179M475 3715H1179M475 3740H1179M475 3840H1179"/>
<path class="tl" stroke-width="2.5" d="M475 3935H1179"/>
<path class="tl" stroke-width="1.5" d="M475 3683V3935M1179 3683V3935M557 3715V3935M861 3715V3935"/>
<text class="t" x="486" y="3705">优缺点比较</text>
<rect x="562" y="3693" width="10" height="12" fill="#fff" stroke="#6e9ad8"/><path d="M562 3697H572M562 3701H572M567 3693V3705" stroke="#6e9ad8" fill="none"/>
<use href="#ic" x="596" y="3700"/>
<text class="t tm" x="709" y="3733">优点</text><text class="t tm" x="1020" y="3733">缺点</text>
<text class="t" x="491" y="3794">自顶向下</text>
<text class="t" x="573" y="3761">不需要测试驱动程序</text>
<text class="t" x="573" y="3794">能在测试阶段的早期实现并验证系统的主要功能</text>
<text class="t" x="573" y="3827">能在早期发现上层模块的接口错误</text>
<text class="t" x="877" y="3761">需要存根程序</text>
<text class="t" x="877" y="3794">底层关键模块的错误发现较晚</text>
<text class="t" x="877" y="3827">早期不能充分展开人力</text>
<text class="t" x="491" y="3893">自底向上</text>
<text class="t" x="573" y="3860">不需要存根程序</text>
<text class="t" x="573" y="3893">底层关键模块的错误发现较早</text>
<text class="t" x="573" y="3926">早期能充分展开人力</text>
<text class="t" x="877" y="3860">需要测试驱动程序</text>
<text class="t" x="877" y="3893">不能在测试阶段的早期实现并验证系统的主要功能</text>
<text class="t" x="877" y="3926">不能在早期发现上层模块的接口错误</text>
</g>
<g id="n201"><path class="u" d="M377 4022H530"/><text class="t" x="387" y="4014">确认测试（验收测试）</text><use href="#ic" x="538" y="4010"/></g>
<g id="n202"><path class="u" d="M555 3966H682"/><text class="t" x="565" y="3958">验证软件的有效性</text></g>
<g id="n203"><path class="u" d="M555 4014H638"/><text class="t" x="565" y="4006">Alpha测试</text><use href="#ic" x="646" y="4002"/></g>
<g id="n204"><path class="u" d="M663 3998H1026"/><text class="t" x="673" y="3990">用户在开发者的场所进行，且在开发者对用户的指导下进行</text></g>
<g id="n205"><path class="u" d="M663 4030H751"/><text class="t" x="673" y="4022">受控的环境</text></g>
<g id="n206"><path class="u" d="M555 4078H631"/><text class="t" x="565" y="4070">Beta测试</text><use href="#ic" x="639" y="4066"/></g>
<g id="n207"><path class="u" d="M654 4062H874"/><text class="t" x="664" y="4054">没有开发者指导，在客户场所进行</text></g>
<g id="n208"><path class="u" d="M654 4094H757"/><text class="t" x="664" y="4086">不受控的环境</text></g>
<g id="n209"><path class="u" d="M377 4357H477"/><text class="t" x="387" y="4349">白盒测试技术</text><use href="#ic" x="485" y="4345"/></g>
<g id="n210"><path class="u" d="M502 4243H577"/><text class="t" x="512" y="4235">逻辑覆盖</text><use href="#ic" x="585" y="4231"/></g>
<g id="n211"><path class="u" d="M601 4131H676"/><text class="t" x="611" y="4123">语句覆盖</text></g>
<g id="n212"><path class="u" d="M601 4163H676"/><text class="t" x="611" y="4155">判定覆盖</text></g>
<g id="n213"><path class="u" d="M601 4195H676"/><text class="t" x="611" y="4187">条件覆盖</text></g>
<g id="n214"><path class="u" d="M601 4227H708"/><text class="t" x="611" y="4219">判定/条件覆盖</text></g>
<g id="n215"><path class="u" d="M601 4259H702"/><text class="t" x="611" y="4251">条件组合覆盖</text></g>
<g id="n216"><path class="u" d="M601 4291H664"/><text class="t" x="611" y="4283">点覆盖</text></g>
<g id="n217"><path class="u" d="M601 4323H664"/><text class="t" x="611" y="4315">边覆盖</text></g>
<g id="n218"><path class="u" d="M601 4355H676"/><text class="t" x="611" y="4347">路径覆盖</text></g>
<g id="n219"><path class="u" d="M502 4472H603"/><text class="t" x="512" y="4464">控制结构测试</text><use href="#ic" x="611" y="4460"/></g>
<g id="n220"><path class="u" d="M627 4424H728"/><text class="t" x="637" y="4416">基本路径测试</text><use href="#ic" x="736" y="4412"/></g>
<g id="n221"><path class="u" d="M754 4392H867"/><text class="t" x="764" y="4384">计算环形复杂度</text></g>
<g id="n222"><path class="u" d="M754 4424H946"/><text class="t" x="764" y="4416">确定线性独立路径的基本集合</text></g>
<g id="n223"><path class="u" d="M754 4456H907"/><text class="t" x="764" y="4448">路径数等于环形复杂度</text></g>
<g id="n224"><path class="u" d="M627 4488H702"/><text class="t" x="637" y="4480">条件测试</text></g>
<g id="n225"><path class="u" d="M627 4520H702"/><text class="t" x="637" y="4512">循环测试</text></g>
<g id="n226"><path class="u" d="M377 4584H477"/><text class="t" x="387" y="4576">黑盒测试技术</text><use href="#ic" x="485" y="4572"/></g>
<g id="n227"><path class="u" d="M502 4552H577"/><text class="t" x="512" y="4544">等价划分</text></g>
<g id="n228"><path class="u" d="M502 4584H590"/><text class="t" x="512" y="4576">边界值分析</text></g>
<g id="n229"><path class="u" d="M502 4616H577"/><text class="t" x="512" y="4608">错误推测</text></g>
<g id="n230"><path class="u" d="M377 4664H425"/><text class="t" x="387" y="4656">调试</text><use href="#ic" x="433" y="4652"/></g>
<g id="n231"><path class="u" d="M451 4648H564"/><text class="t" x="461" y="4640">测试是发现问题</text></g>
<g id="n232"><path class="u" d="M451 4680H564"/><text class="t" x="461" y="4672">调试是改正问题</text></g>
<g id="n233"><path class="u" d="M377 4712H464"/><text class="t" x="387" y="4704">软件可靠性</text><use href="#ic" x="472" y="4700"/></g>
<g id="n234"><path class="u" d="M489 4712H889"/><text class="t" x="499" y="4704">程序在给定时间间隔内，按照规格说明书的规定成功地运行的概率</text></g>
<g id="n235"><path class="u" d="M377 4744H464"/><text class="t" x="387" y="4736">软件可用性</text><use href="#ic" x="472" y="4732"/></g>
<g id="n236"><path class="u" d="M489 4744H878"/><text class="t" x="499" y="4736">程序在给定的时间点，按照规格说明书的规定成功地运行的概率</text></g>
<g id="n237"><path class="u" d="M377 4943H425"/><text class="t" x="387" y="4935">计算</text><use href="#ic" x="433" y="4931"/></g>
<g id="n238"><path class="u" d="M451 4856H498"/><text class="t" x="461" y="4848">符号</text><use href="#ic" x="506" y="4844"/></g>
<g id="n239"><path class="u" d="M522 4776H580"/><text class="t" x="532" y="4768">MTTF</text><use href="#ic" x="588" y="4764"/></g>
<g id="n240"><path class="u" d="M605 4776H718"/><text class="t" x="615" y="4768">平均无故障时间</text></g>
<g id="n241"><path class="u" d="M522 4808H558"/><text class="t" x="532" y="4800">Et</text><use href="#ic" x="566" y="4796"/></g>
<g id="n242"><path class="u" d="M583 4808H750"/><text class="t" x="593" y="4800">测试之前程序中错误总数</text></g>
<g id="n243"><path class="u" d="M522 4840H558"/><text class="t" x="532" y="4832">It</text><use href="#ic" x="566" y="4828"/></g>
<g id="n244"><path class="u" d="M580 4840H759"/><text class="t" x="590" y="4832">程序长度（机器指令总数）</text></g>
<g id="n245"><path class="u" d="M522 4872H551"/><text class="t" x="532" y="4864">t</text><use href="#ic" x="559" y="4860"/></g>
<g id="n246"><path class="u" d="M576 4872H729"/><text class="t" x="586" y="4864">测试（包括调试）时间</text></g>
<g id="n247"><path class="u" d="M522 4904H591"/><text class="t" x="532" y="4896">Ed（t）</text><use href="#ic" x="599" y="4892"/></g>
<g id="n248"><path class="u" d="M617 4904H783"/><text class="t" x="627" y="4896">在0至t期间发现的错误数</text></g>
<g id="n249"><path class="u" d="M522 4936H591"/><text class="t" x="532" y="4928">Ec（t）</text><use href="#ic" x="599" y="4924"/></g>
<g id="n250"><path class="u" d="M617 4936H783"/><text class="t" x="627" y="4928">在0至t期间改正的错误数</text></g>
<g id="n251"><path class="u" d="M451 4973H590"/><text class="t" x="461" y="4965">估算平均无障碍时间</text><use href="#ic" x="598" y="4961"/></g>
<g id="n252"><path class="u" d="M615 4973H761"/><text class="t" x="625" y="4965">MTTF=It/k（Et-Ec）</text></g>
<g id="n253"><path class="u" d="M451 5030H590"/><text class="t" x="461" y="5022">估算错误总数的方法</text><use href="#ic" x="598" y="5018"/></g>
<g id="n254"><path class="u" d="M615 5005H729"/><text class="t" x="625" y="4997">N=（n/ns）Ns</text></g>
<g id="n255"><path class="u" d="M615 5055H735"/><text class="t" x="625" y="5047">B=（B2/bc）B1</text><use href="#ic" x="743" y="5043"/></g>
<g id="n256"><path class="u" d="M759 5055H1016"/><text class="t" x="769" y="5028">两个测试员发现错误的乘积等于错误总数</text><text class="t" x="769" y="5047">与两测试员发现的相同的错误的乘积</text></g>
<g id="n257"><path class="u" d="M283 5101H364"/><text class="t" x="293" y="5093">完善性维护</text><use href="#ic" x="372" y="5089"/></g>
<g id="n258"><path class="u" d="M388 5101H463"/><text class="t" x="398" y="5093">比例最大</text></g>
<g id="n259"><path class="u" d="M283 5133H371"/><text class="t" x="293" y="5125">改正性维护</text></g>
<g id="n260"><path class="u" d="M283 5165H371"/><text class="t" x="293" y="5157">适应性维护</text></g>
<g id="n261"><path class="u" d="M283 5197H371"/><text class="t" x="293" y="5189">预防性维护</text></g>
</g>
</svg>
